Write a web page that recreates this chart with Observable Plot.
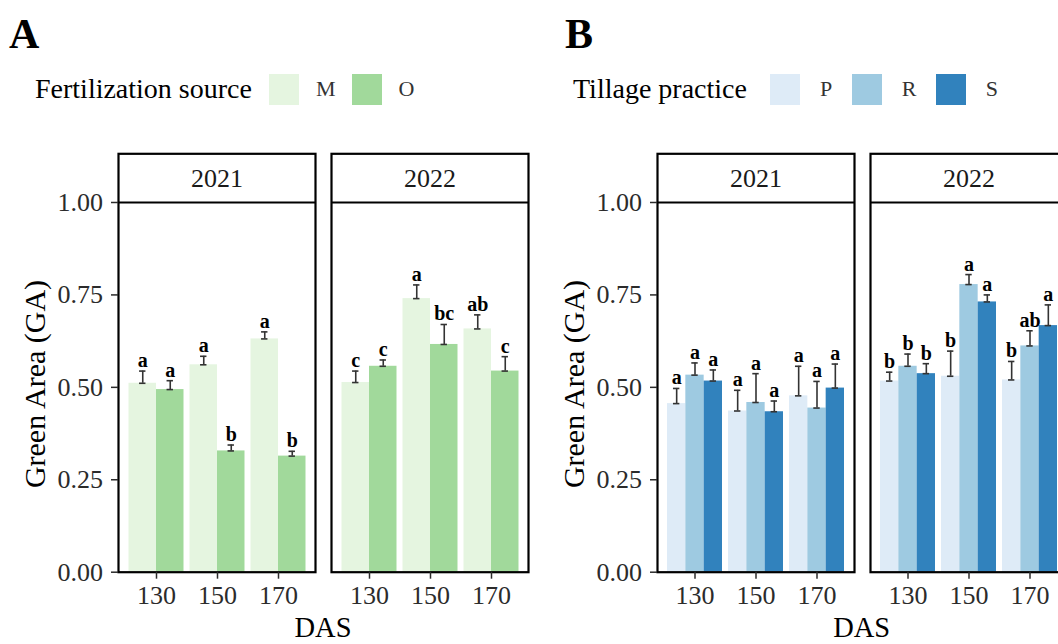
<!DOCTYPE html>
<html>
<head>
<meta charset="utf-8">
<script src="https://cdn.jsdelivr.net/npm/d3@7"></script>
<script src="https://cdn.jsdelivr.net/npm/@observablehq/plot@0.6"></script>
<style>
  html, body { margin: 0; padding: 0; background: #fff; }
  #root { position: relative; width: 1058px; height: 644px; overflow: hidden; background: #fff;
          font-family: "Liberation Serif", "Times New Roman", serif; }
  .abs { position: absolute; line-height: 1; white-space: nowrap; }
  .panel { position: absolute; top: 0; width: 540px; height: 644px; }
  .tag { font-size: 42px; font-weight: bold; color: #000; top: 12.8px; }
  .legend { position: absolute; top: 72.7px; height: 33px; display: flex; align-items: center; }
  .legend .title { font-size: 28px; line-height: 1; color: #000; }
  .legend .key { width: 32px; height: 33px; box-sizing: border-box; border: 1px solid #fff; }
  .legend .lab { font-size: 22px; line-height: 1; color: #333; }
  .ytitle { font-size: 30px; color: #000; transform: translate(-50%, -50%) rotate(-90deg); }
  .xtitle { font-size: 28.5px; color: #000; transform: translateX(-50%); top: 613.6px; }
</style>
</head>
<body>
<div id="root">
  <div id="A" class="panel" style="left:0"></div>
  <div id="B" class="panel" style="left:540px"></div>
  <div class="abs tag" style="left:9px">A</div>
  <div class="abs tag" style="left:565px">B</div>
  <div id="legA" class="legend" style="left:35px"></div>
  <div id="legB" class="legend" style="left:573px"></div>
  <div class="abs ytitle" style="left:35px; top:384px">Green Area (GA)</div>
  <div class="abs ytitle" style="left:573.5px; top:384px">Green Area (GA)</div>
  <div class="abs xtitle" style="left:323px">DAS</div>
  <div class="abs xtitle" style="left:861.7px">DAS</div>
</div>
<script>
// ---------- data ----------
const years = [2021, 2022];
const das = [130, 150, 170];

// Panel A: fertilization source
const fertSources = ["M", "O"];
const fertColors = ["#e5f5e0", "#a1d99b"];
// order: 2021 (130 M, 130 O, 150 M, 150 O, 170 M, 170 O), then 2022 same
const fertMean = [0.511, 0.494, 0.561, 0.328, 0.631, 0.314,
                  0.513, 0.557, 0.740, 0.616, 0.658, 0.544];
const fertSE   = [0.033, 0.024, 0.023, 0.016, 0.019, 0.013,
                  0.031, 0.017, 0.037, 0.054, 0.038, 0.039];
const fertLetters = ["a", "a", "a", "b", "a", "b",
                     "c", "c", "a", "bc", "ab", "c"];

// Panel B: tillage practice
const tillPractices = ["P", "R", "S"];
const tillColors = ["#deebf7", "#9ecae1", "#3182bd"];
// order: 2021 (130 P,R,S, 150 P,R,S, 170 P,R,S), then 2022 same
const tillMean = [0.456, 0.533, 0.517, 0.436, 0.459, 0.434, 0.477, 0.444, 0.498,
                  0.517, 0.557, 0.537, 0.530, 0.778, 0.731, 0.520, 0.612, 0.667];
const tillSE   = [0.041, 0.033, 0.030, 0.056, 0.078, 0.029, 0.080, 0.072, 0.065,
                  0.024, 0.033, 0.027, 0.068, 0.027, 0.019, 0.050, 0.041, 0.056];
const tillLetters = ["a", "a", "a", "a", "a", "a", "a", "a", "a",
                     "b", "b", "b", "b", "a", "a", "b", "ab", "a"];

const yTicks = [0, 0.25, 0.5, 0.75, 1];

// ---------- drawing ----------
const FONT = "'Liberation Serif', 'Times New Roman', serif";

function makePanel({el, groups, colors, means, ses, letters, marginLeft, marginRight}) {
  const n = groups.length;
  const rows = [];
  years.forEach((yr, yi) => das.forEach((d, di) => groups.forEach((g, gi) => {
    const k = (yi * das.length + di) * n + gi;
    rows.push({year: yr, das: d, g, mean: means[k], se: ses[k], top: means[k] + ses[k], letter: letters[k]});
  })));

  const build = (bw) => {
    const marks = [];
    groups.forEach((g, i) => {
      const sub = rows.filter(r => r.g === g);
      marks.push(Plot.barY(sub, {fx: "year", x: "das", y: "mean", fill: "g",
        insetLeft: i * bw / n, insetRight: (n - 1 - i) * bw / n}));
    });
    groups.forEach((g, i) => {
      const sub = rows.filter(r => r.g === g);
      const c = (i + 0.5) * bw / n;
      const capW = 3.2;
      marks.push(
        Plot.ruleX(sub, {fx: "year", x: "das", y1: "mean", y2: "top", dx: c - bw / 2,
          stroke: "#333", strokeWidth: 1.6}),
        Plot.tickY(sub, {fx: "year", x: "das", y: "mean", insetLeft: c - capW, insetRight: bw - c - capW,
          stroke: "#333", strokeWidth: 1.6}),
        Plot.tickY(sub, {fx: "year", x: "das", y: "top", insetLeft: c - capW, insetRight: bw - c - capW,
          stroke: "#333", strokeWidth: 1.6}),
        Plot.text(sub, {fx: "year", x: "das", y: "top", text: "letter", dx: c - bw / 2, dy: -4,
          lineAnchor: "bottom", fontWeight: "bold", fontSize: 20, fill: "#000"})
      );
    });
    marks.push(
      Plot.ruleY([1], {stroke: "#000", strokeWidth: 2.2}),
      Plot.frame({stroke: "#000", strokeWidth: 2.2}),
      Plot.text(years, {fx: d => d, text: d => String(d), frameAnchor: "top", dy: 24.4,
        lineAnchor: "middle", fontSize: 26, fill: "#1a1a1a"}),
      Plot.axisY({ticks: yTicks, tickFormat: d3.format(".2f"), tickSize: 7, tickPadding: 8.6,
        label: null, strokeWidth: 1.5, fontSize: 26}),
      Plot.axisX({tickSize: 7, tickPadding: 6, label: null, strokeWidth: 1.5, fontSize: 26})
    );
    return Plot.plot({
      width: 540, height: 644,
      marginTop: 153.3, marginBottom: 72.3, marginLeft, marginRight,
      style: {fontFamily: FONT, fontSize: "26px", color: "#2b2b2b", background: "transparent", maxWidth: "none"},
      fx: {domain: years, paddingInner: 0.074, paddingOuter: 0, axis: null},
      x: {type: "band", domain: das, paddingInner: 0.1, paddingOuter: 0.15},
      y: {domain: [0, 1.1317]},
      color: {domain: groups, range: colors},
      marks
    });
  };
  const probe = build(0);
  const bw = probe.scale("x").bandwidth;
  el.append(build(bw));
}

function makeLegend(el, title, groups, colors, gaps) {
  const t = document.createElement("span");
  t.className = "title"; t.textContent = title; t.style.marginRight = gaps.title + "px";
  el.append(t);
  groups.forEach((g, i) => {
    const k = document.createElement("span");
    k.className = "key"; k.style.background = colors[i];
    const l = document.createElement("span");
    l.className = "lab"; l.textContent = g;
    l.style.marginLeft = gaps.label + "px";
    if (i < groups.length - 1) l.style.marginRight = gaps.item + "px";
    el.append(k, l);
  });
}

makePanel({el: document.getElementById("A"), groups: fertSources, colors: fertColors,
  means: fertMean, ses: fertSE, letters: fertLetters, marginLeft: 117.5, marginRight: 10.5});
makePanel({el: document.getElementById("B"), groups: tillPractices, colors: tillColors,
  means: tillMean, ses: tillSE, letters: tillLetters, marginLeft: 116, marginRight: 12});

makeLegend(document.getElementById("legA"), "Fertilization source", fertSources, fertColors,
  {title: 16, label: 16, item: 15});
makeLegend(document.getElementById("legB"), "Tillage practice", tillPractices, tillColors,
  {title: 22, label: 19, item: 18.5});
</script>
</body>
</html>
